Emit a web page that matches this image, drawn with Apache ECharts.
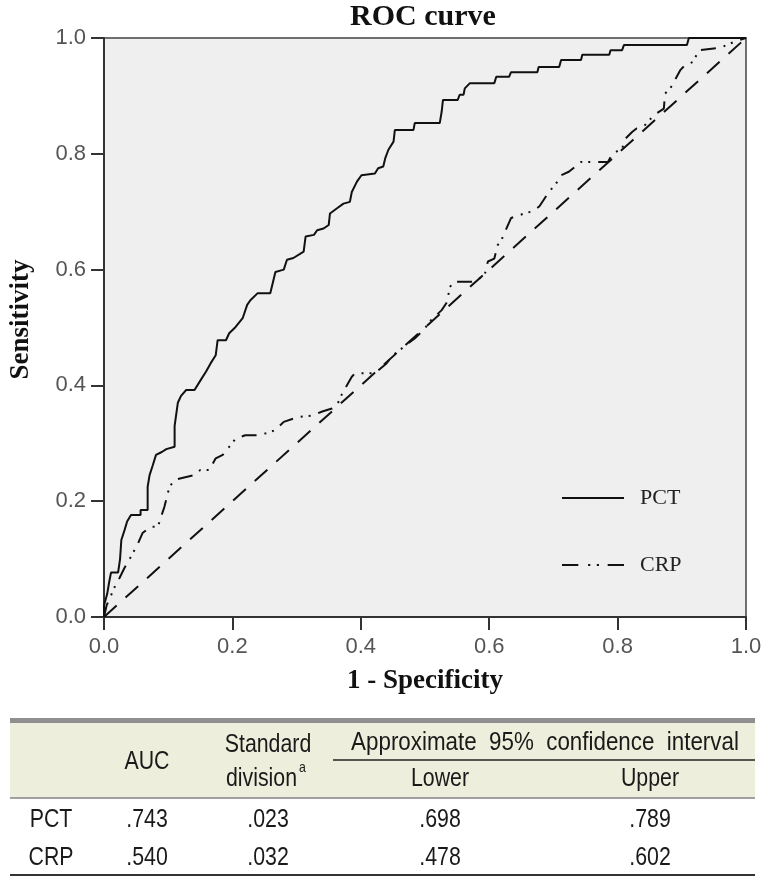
<!DOCTYPE html>
<html>
<head>
<meta charset="utf-8">
<script src="https://cdn.jsdelivr.net/npm/echarts@6/dist/echarts.min.js"></script>
<style>
html,body{margin:0;padding:0;background:#fff;}
#chart{width:765px;height:877px;}
</style>
</head>
<body>
<div id="chart"></div>
<script>
// ---- Data ----
const xTicks = [0, 0.2, 0.4, 0.6, 0.8, 1.0];
const pctCurve = [[0,0],[0,0.02],[0.005,0.04],[0.008,0.06],[0.011,0.077],[0.022,0.077],[0.025,0.1],[0.027,0.133],[0.032,0.15],[0.036,0.165],[0.042,0.176],[0.057,0.176],[0.057,0.185],[0.068,0.185],[0.068,0.225],[0.071,0.245],[0.076,0.262],[0.081,0.28],[0.09,0.285],[0.097,0.29],[0.11,0.294],[0.11,0.33],[0.115,0.37],[0.12,0.382],[0.128,0.392],[0.141,0.392],[0.151,0.41],[0.159,0.424],[0.166,0.438],[0.174,0.452],[0.177,0.478],[0.19,0.478],[0.195,0.49],[0.205,0.501],[0.216,0.516],[0.223,0.539],[0.228,0.547],[0.239,0.559],[0.259,0.559],[0.267,0.596],[0.28,0.6],[0.285,0.617],[0.295,0.62],[0.311,0.631],[0.314,0.657],[0.327,0.66],[0.332,0.668],[0.342,0.671],[0.35,0.677],[0.352,0.697],[0.363,0.706],[0.373,0.714],[0.383,0.717],[0.386,0.734],[0.394,0.752],[0.401,0.763],[0.422,0.766],[0.427,0.775],[0.435,0.778],[0.438,0.792],[0.443,0.807],[0.451,0.821],[0.453,0.841],[0.482,0.841],[0.484,0.853],[0.523,0.853],[0.526,0.873],[0.528,0.893],[0.551,0.893],[0.554,0.902],[0.56,0.902],[0.562,0.913],[0.57,0.922],[0.608,0.922],[0.611,0.933],[0.631,0.933],[0.634,0.941],[0.675,0.941],[0.677,0.95],[0.709,0.95],[0.712,0.962],[0.743,0.962],[0.745,0.971],[0.787,0.971],[0.789,0.979],[0.807,0.979],[0.81,0.988],[0.908,0.988],[0.911,1],[1,1]];
const crpCurve = [[0,0],[0.004,0.02],[0.01,0.035],[0.019,0.058],[0.024,0.067],[0.032,0.085],[0.04,0.1],[0.053,0.127],[0.06,0.145],[0.073,0.156],[0.084,0.156],[0.088,0.17],[0.094,0.19],[0.102,0.225],[0.11,0.237],[0.14,0.245],[0.15,0.254],[0.164,0.254],[0.174,0.274],[0.185,0.28],[0.195,0.294],[0.205,0.308],[0.22,0.314],[0.239,0.314],[0.255,0.318],[0.267,0.323],[0.28,0.337],[0.296,0.343],[0.306,0.346],[0.325,0.348],[0.34,0.355],[0.355,0.36],[0.363,0.366],[0.371,0.386],[0.386,0.415],[0.391,0.421],[0.422,0.421],[0.44,0.438],[0.451,0.453],[0.464,0.464],[0.474,0.473],[0.484,0.481],[0.5,0.498],[0.505,0.508],[0.526,0.53],[0.535,0.545],[0.538,0.568],[0.544,0.579],[0.577,0.579],[0.593,0.591],[0.598,0.614],[0.608,0.619],[0.613,0.642],[0.619,0.651],[0.634,0.689],[0.655,0.697],[0.665,0.7],[0.678,0.709],[0.693,0.734],[0.705,0.75],[0.712,0.763],[0.724,0.769],[0.743,0.786],[0.785,0.786],[0.792,0.8],[0.807,0.809],[0.812,0.826],[0.823,0.838],[0.83,0.844],[0.843,0.85],[0.849,0.858],[0.861,0.87],[0.872,0.878],[0.874,0.904],[0.882,0.913],[0.898,0.945],[0.905,0.953],[0.918,0.959],[0.923,0.971],[0.926,0.979],[0.96,0.983],[0.985,0.995],[1,1]];
const refLine = [[0,0],[1,1]];
const seriesNames = ['PCT', 'CRP'];

// table
const tableRowNames = ['PCT', 'CRP'];
const aucValues = ['.743', '.540'];
const sdValues = ['.023', '.032'];
const lowerValues = ['.698', '.478'];
const upperValues = ['.789', '.602'];
const tableHeaders = {auc: 'AUC', sd1: 'Standard', sd2: 'division', sdSup: 'a', ci: 'Approximate  95%  confidence  interval', lower: 'Lower', upper: 'Upper'};

// ---- Chart ----
const chart = echarts.init(document.getElementById('chart'), null, {renderer: 'canvas'});
const SERIF = '"Liberation Serif", "Times New Roman", serif';
const SANS = '"Liberation Sans", Arial, sans-serif';

const colX = {name: 51, auc: 147, sd: 268, lower: 440, upper: 650};
const rowY = [820, 858];
const graphics = [];
graphics.push({type: 'rect', shape: {x: 10, y: 718, width: 745, height: 5}, style: {fill: '#8f8f8f'}});
graphics.push({type: 'rect', shape: {x: 10, y: 723, width: 745, height: 75}, style: {fill: '#eeeedc'}});
graphics.push({type: 'line', shape: {x1: 10, y1: 798, x2: 755, y2: 798}, style: {stroke: '#a0a0a0', lineWidth: 2}});
graphics.push({type: 'line', shape: {x1: 333, y1: 760, x2: 755, y2: 760}, style: {stroke: '#222', lineWidth: 1.5}});
graphics.push({type: 'line', shape: {x1: 10, y1: 875, x2: 755, y2: 875}, style: {stroke: '#333', lineWidth: 2}});
function txt(t, x, y, sz, align, sx) {
  return {type: 'text', x: x, y: y, scaleX: sx || 0.82,
    style: {text: t, x: 0, y: 0, fontFamily: SANS, fontSize: sz, fill: '#1a1a1a', align: align || 'center', verticalAlign: 'middle'}};
}
graphics.push(txt(tableHeaders.auc, colX.auc, 762, 26));
graphics.push(txt(tableHeaders.sd1, colX.sd, 745, 26));
graphics.push(txt(tableHeaders.sd2, 297, 779, 26, 'right'));
graphics.push(txt(tableHeaders.sdSup, 299, 768, 15, 'left'));
graphics.push(txt(tableHeaders.ci, 545, 743, 26, 'center', 0.86));
graphics.push(txt(tableHeaders.lower, colX.lower, 779, 26));
graphics.push(txt(tableHeaders.upper, colX.upper, 779, 26));
tableRowNames.forEach((n, i) => {
  graphics.push(txt(n, colX.name, rowY[i], 26));
  graphics.push(txt(aucValues[i], colX.auc, rowY[i], 26));
  graphics.push(txt(sdValues[i], colX.sd, rowY[i], 26));
  graphics.push(txt(lowerValues[i], colX.lower, rowY[i], 26));
  graphics.push(txt(upperValues[i], colX.upper, rowY[i], 26));
});

const axisCommon = {
  type: 'value', min: 0, max: 1, interval: 0.2,
  axisLine: {show: true, onZero: false, lineStyle: {color: '#333', width: 2}},
  axisTick: {show: true, length: 13, lineStyle: {color: '#333', width: 2}},
  splitLine: {show: false}
};

chart.setOption({
  animation: false,
  backgroundColor: '#fff',
  title: {text: 'ROC curve', left: 418, top: -3, textAlign: 'center',
    textStyle: {fontFamily: SERIF, fontWeight: 'bold', fontSize: 30, color: '#111'}},
  grid: {left: 101, top: 38, width: 645, height: 579, show: true, backgroundColor: '#efefef', borderColor: '#707070', borderWidth: 2},
  xAxis: Object.assign({}, axisCommon, {
    name: '1 - Specificity', nameLocation: 'middle', nameGap: 51,
    nameTextStyle: {fontFamily: SERIF, fontWeight: 'bold', fontSize: 27, color: '#111'},
    axisLabel: {margin: 19, fontSize: 22, color: '#555', fontFamily: SANS, formatter: v => v.toFixed(1)}
  }),
  yAxis: Object.assign({}, axisCommon, {
    name: 'Sensitivity', nameLocation: 'middle', nameGap: 69, nameRotate: 90,
    nameTextStyle: {fontFamily: SERIF, fontWeight: 'bold', fontSize: 27, color: '#111', padding: [0, 0, 0, 16]},
    axisLabel: {margin: 18, fontSize: 22, color: '#555', fontFamily: SANS, formatter: v => v.toFixed(1)}
  }),
  legend: {
    data: [
      {name: seriesNames[0], icon: 'path://M0,0H62V2H0Z'},
      {name: seriesNames[1], icon: 'path://M0,0H15V2H0Z M24,0H26V2H24Z M32,0H34V2H32Z M42,0H57V2H42Z'}
    ],
    orient: 'vertical', left: 562, top: 487, padding: 0,
    itemWidth: 62, itemHeight: 18, itemGap: 45,
    itemStyle: {color: '#111'},
    textStyle: {fontFamily: SERIF, fontSize: 22, color: '#222', padding: [0, 0, 0, 11]}
  },
  series: [
    {name: 'Reference', type: 'line', data: refLine, symbol: 'none', silent: true, color: '#111',
      lineStyle: {color: '#111', width: 2, type: [17, 12]}},
    {name: seriesNames[1], type: 'line', data: crpCurve, symbol: 'none', color: '#111',
      lineStyle: {color: '#111', width: 2, type: [15, 8, 2, 6, 2, 8]}},
    {name: seriesNames[0], type: 'line', data: pctCurve, symbol: 'none', color: '#111',
      lineStyle: {color: '#111', width: 2}}
  ],
  graphic: graphics
});
</script>
</body>
</html>
